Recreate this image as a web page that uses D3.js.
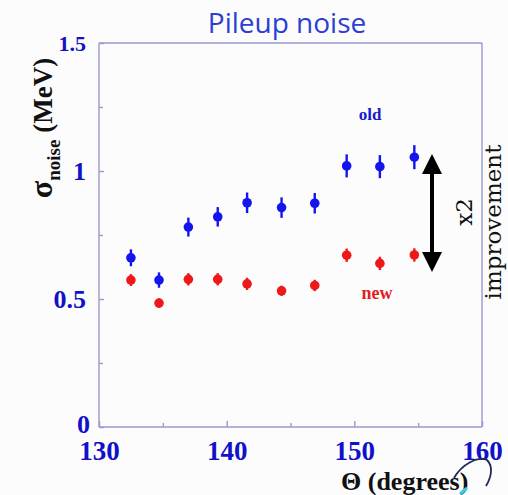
<!DOCTYPE html>
<html><head><meta charset="utf-8">
<script src="https://cdn.jsdelivr.net/npm/d3@7"></script>
<style>html,body{margin:0;padding:0;background:#fcfcfd;}svg{display:block;}</style>
</head><body>
<script>
const thetaOld = [132.5, 134.7, 137.0, 139.3, 141.6, 144.3, 146.9, 149.4, 152.0, 154.7];
const sigmaOld = [0.661, 0.574, 0.781, 0.821, 0.876, 0.857, 0.874, 1.020, 1.017, 1.054];
const errOld   = [0.033, 0.030, 0.037, 0.038, 0.040, 0.040, 0.040, 0.045, 0.045, 0.047];
const thetaNew = [132.5, 134.7, 137.0, 139.3, 141.6, 144.3, 146.9, 149.4, 152.0, 154.7];
const sigmaNew = [0.574, 0.484, 0.577, 0.577, 0.559, 0.532, 0.553, 0.671, 0.639, 0.672];
const errNew   = [0.023, 0.018, 0.024, 0.024, 0.024, 0.020, 0.022, 0.026, 0.026, 0.026];
const xTicks = [130, 140, 150, 160];
const xMinor = [135, 145, 155];
const yTicks = [0, 0.5, 1, 1.5];
const yMinor = [0.25, 0.75, 1.25];

const W = 508, H = 495;
const svg = d3.select("body").append("svg").attr("width", W).attr("height", H);
svg.append("rect").attr("width", W).attr("height", H).attr("fill", "#fcfcfd");

const x = d3.scaleLinear().domain([130, 160]).range([99, 482]);
const y = d3.scaleLinear().domain([0, 1.5]).range([427, 43]);
const axisCol = "#9a9ad0";
const tickCol = "#1111c8";

// frame
const fr = svg.append("g").attr("stroke", axisCol).attr("stroke-width", 1.4).attr("fill", "none");
fr.append("line").attr("x1", x(130)).attr("x2", x(160)).attr("y1", y(0)).attr("y2", y(0));
fr.append("line").attr("x1", x(130)).attr("x2", x(160)).attr("y1", y(1.5)).attr("y2", y(1.5));
fr.append("line").attr("x1", x(130)).attr("x2", x(130)).attr("y1", y(0)).attr("y2", y(1.5));
fr.append("line").attr("x1", x(160)).attr("x2", x(160)).attr("y1", y(0)).attr("y2", y(1.5));

// ticks via axes
const xAxis = d3.axisBottom(x).tickValues(xTicks).tickSize(-6).tickFormat(d3.format("d")).tickPadding(13);
const gx = svg.append("g").attr("transform", `translate(0,${y(0)})`).call(xAxis);
gx.select(".domain").remove();
gx.selectAll(".tick line").attr("stroke", axisCol).attr("stroke-width", 1.4);
gx.selectAll(".tick text").attr("fill", tickCol).attr("font-family", "Liberation Serif, Times New Roman, serif")
  .attr("font-weight", "bold").attr("font-size", 27).attr("dy", "0.75em");
const gxm = svg.append("g").attr("transform", `translate(0,${y(0)})`)
  .call(d3.axisBottom(x).tickValues(xMinor).tickSize(-4).tickFormat(""));
gxm.select(".domain").remove();
gxm.selectAll(".tick line").attr("stroke", axisCol).attr("stroke-width", 1.4);

const yAxis = d3.axisLeft(y).tickValues(yTicks).tickSize(-5).tickPadding(13)
  .tickFormat(d => d === 0 ? "0" : d3.format("")(d));
const gy = svg.append("g").attr("transform", `translate(${x(130)},0)`).call(yAxis);
gy.select(".domain").remove();
gy.selectAll(".tick line").attr("stroke", axisCol).attr("stroke-width", 1.4);
gy.selectAll(".tick text").attr("fill", tickCol).attr("font-family", "Liberation Serif, Times New Roman, serif")
  .attr("font-weight", "bold").attr("font-size", d => d === 1.5 ? 22 : 26);
gy.selectAll(".tick").filter(d => d === 0).select("text").attr("dx", 4).attr("dy", "0.2em");
const gym = svg.append("g").attr("transform", `translate(${x(130)},0)`)
  .call(d3.axisLeft(y).tickValues(yMinor).tickSize(-4).tickFormat(""));
gym.select(".domain").remove();
gym.selectAll(".tick line").attr("stroke", axisCol).attr("stroke-width", 1.4);

// data
function series(th, sg, er, col) {
  const g = svg.append("g");
  const d = th.map((t, i) => ({t, s: sg[i], e: er[i]}));
  g.selectAll("line.err").data(d).join("line")
    .attr("x1", p => x(p.t)).attr("x2", p => x(p.t))
    .attr("y1", p => y(p.s - p.e)).attr("y2", p => y(p.s + p.e))
    .attr("stroke", col).attr("stroke-width", 2.4);
  g.selectAll("circle").data(d).join("circle")
    .attr("cx", p => x(p.t)).attr("cy", p => y(p.s)).attr("r", 4.8).attr("fill", col);
}
series(thetaOld, sigmaOld, errOld, "#1414ee");
series(thetaNew, sigmaNew, errNew, "#ee1818");

// labels
svg.append("text").attr("x", 287).attr("y", 33).attr("text-anchor", "middle")
  .attr("font-family", "Open Sans, DejaVu Sans, sans-serif").attr("font-size", 28)
  .attr("fill", "#2b3fd2").text("Pileup noise");
svg.append("text").attr("x", 370).attr("y", 120).attr("text-anchor", "middle")
  .attr("font-family", "Liberation Serif, serif").attr("font-weight", "bold").attr("font-size", 17)
  .attr("fill", "#1a1ad0").text("old");
svg.append("text").attr("x", 377).attr("y", 299).attr("text-anchor", "middle")
  .attr("font-family", "Liberation Serif, serif").attr("font-weight", "bold").attr("font-size", 18)
  .attr("fill", "#e02020").text("new");

// y label
const yl = svg.append("text").attr("transform", "translate(52,128) rotate(-90)").attr("text-anchor", "middle")
  .attr("font-family", "Liberation Serif, serif").attr("font-weight", "bold").attr("font-size", 27).attr("fill", "#111");
yl.append("tspan").attr("font-size", 32).text("σ");
yl.append("tspan").attr("font-size", 19).attr("dy", 8).text("noise");
yl.append("tspan").attr("dy", -8).text(" (MeV)");

// x label
svg.append("text").attr("x", 341).attr("y", 490)
  .attr("font-family", "Liberation Serif, serif").attr("font-weight", "bold").attr("font-size", 26)
  .attr("fill", "#111").text("Θ (degrees)");
svg.append("path").attr("d", "M454,478 C462,464 478,456 487,460 C493,466 492,476 486,486")
  .attr("fill", "none").attr("stroke", "#1d2a55").attr("stroke-width", 1.8);
svg.append("path").attr("d", "M460,494 L467,488").attr("stroke", "#3cc8e8").attr("stroke-width", 3);

// arrow
const ax = 432, aTop = 154, aBot = 272;
svg.append("line").attr("x1", ax).attr("x2", ax).attr("y1", aTop + 15).attr("y2", aBot - 15)
  .attr("stroke", "#000").attr("stroke-width", 4);
svg.append("path").attr("d", `M${ax},${aTop} L${ax-10},${aTop+20} L${ax+10},${aTop+20} Z`).attr("fill", "#000");
svg.append("path").attr("d", `M${ax},${aBot} L${ax-10},${aBot-20} L${ax+10},${aBot-20} Z`).attr("fill", "#000");

svg.append("text").attr("transform", "translate(472,212) rotate(-90)").attr("text-anchor", "middle")
  .attr("font-family", "DejaVu Serif, Liberation Serif, serif").attr("font-size", 23).attr("fill", "#111").text("x2");
svg.append("text").attr("transform", "translate(501,222) rotate(-90)").attr("text-anchor", "middle")
  .attr("font-family", "DejaVu Serif, Liberation Serif, serif").attr("font-size", 23).attr("fill", "#111").text("improvement");
</script>
</body></html>
